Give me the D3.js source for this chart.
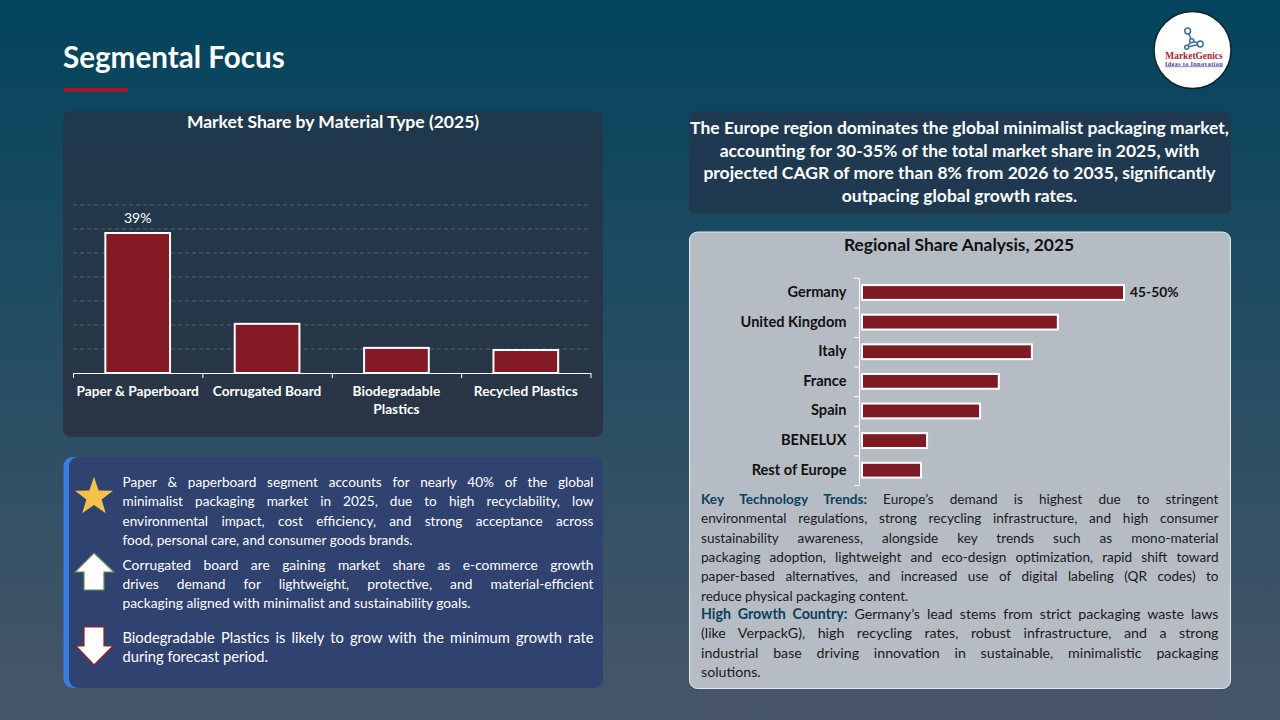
<!DOCTYPE html>
<html>
<head>
<meta charset="utf-8">
<script src="https://cdn.jsdelivr.net/npm/d3@7"></script>
<style>
  html, body { margin: 0; padding: 0; background: #03445d; }
  svg { display: block; }
  text { font-family: Lato, "Open Sans", sans-serif; }
</style>
</head>
<body>
<div id="chart_area"></div>
<script>
// Chart data.
var materialTypes = ["Paper & Paperboard", "Corrugated Board", "Biodegradable Plastics", "Recycled Plastics"];
var materialShares = [39, 13.7, 7, 6.4];
var materialLabels = ["39%", "", "", ""];
var materialMax = 46.8;
var materialGridSteps = 7;

var countries = ["Germany", "United Kingdom", "Italy", "France", "Spain", "BENELUX", "Rest of Europe"];
var countryShares = [47.5, 35.5, 30.8, 24.8, 21.4, 11.8, 10.7];
var countryLabels = ["45-50%", "", "", "", "", "", ""];

// Text blocks, one entry per line as in the slide.
var headlineLines = [
  "The Europe region dominates the global minimalist packaging market,",
  "accounting for 30-35% of the total market share in 2025, with",
  "projected CAGR of more than 8% from 2026 to 2035, significantly",
  "outpacing global growth rates."
];
var starLines = [
  "Paper & paperboard segment accounts for nearly 40% of the global",
  "minimalist packaging market in 2025, due to high recyclability, low",
  "environmental impact, cost efficiency, and strong acceptance across",
  "food, personal care, and consumer goods brands."
];
var upLines = [
  "Corrugated board are gaining market share as e-commerce growth",
  "drives demand for lightweight, protective, and material-efficient",
  "packaging aligned with minimalist and sustainability goals."
];
var downLines = [
  "Biodegradable Plastics is likely to grow with the minimum growth rate",
  "during forecast period."
];
var trendLines = [
  "Key Technology Trends: Europe\u2019s demand is highest due to stringent",
  "environmental regulations, strong recycling infrastructure, and high consumer",
  "sustainability awareness, alongside key trends such as mono-material",
  "packaging adoption, lightweight and eco-design optimization, rapid shift toward",
  "paper-based alternatives, and increased use of digital labeling (QR codes) to",
  "reduce physical packaging content."
];
var growthLines = [
  "High Growth Country: Germany\u2019s lead stems from strict packaging waste laws",
  "(like VerpackG), high recycling rates, robust infrastructure, and a strong",
  "industrial base driving innovation in sustainable, minimalistic packaging",
  "solutions."
];

var frame = d3.select("#chart_area").append("svg").attr("width", 1280).attr("height", 720);

// Background gradient.
var defs = frame.append("defs");
var bg = defs.append("linearGradient").attr("id", "bg").attr("x1", 0).attr("y1", 0).attr("x2", 0).attr("y2", 1);
bg.append("stop").attr("offset", "0%").attr("stop-color", "#03445d");
bg.append("stop").attr("offset", "100%").attr("stop-color", "#485668");
frame.append("rect").attr("width", 1280).attr("height", 720).attr("fill", "url(#bg)");

var panelFill = defs.append("linearGradient").attr("id", "panelFill").attr("x1", 0).attr("y1", 0).attr("x2", 0).attr("y2", 1);
panelFill.append("stop").attr("offset", "0%").attr("stop-color", "#1f384c");
panelFill.append("stop").attr("offset", "100%").attr("stop-color", "#2a3545");

// Write lines of text, stretching the word gaps so each line ends at x + width.
// boldWords colours and thickens the first n words of the first line.
function justified(parent, lines, x, y0, pitch, width, size, fill, boldWords, boldFill) {
  lines.forEach(function(line, i) {
    var t = parent.append("text").attr("x", x).attr("y", y0 + i * pitch)
      .attr("font-size", size).attr("fill", fill);
    var words = line.split(" ");
    if (i === 0 && boldWords) {
      t.append("tspan").attr("font-weight", 700).attr("fill", boldFill).text(words.slice(0, boldWords).join(" "));
      t.append("tspan").text(" " + words.slice(boldWords).join(" "));
    } else {
      t.text(line);
    }
    if (i < lines.length - 1) {
      var room = width - t.node().getComputedTextLength();
      t.style("word-spacing", (room / (words.length - 1)) + "px");
    }
  });
}

function centered(parent, lines, cx, y0, pitch, size, fill, weight) {
  lines.forEach(function(line, i) {
    parent.append("text").attr("x", cx).attr("y", y0 + i * pitch).attr("text-anchor", "middle")
      .attr("font-size", size).attr("font-weight", weight).attr("fill", fill).text(line);
  });
}

// Slide title.
frame.append("text").attr("x", 63).attr("y", 68).attr("font-size", 29.6).attr("font-weight", 700)
  .attr("fill", "#ffffff").text("Segmental Focus");
frame.append("rect").attr("x", 64).attr("y", 88).attr("width", 64).attr("height", 3.5).attr("fill", "#b80f1c");

// Logo.
var logo = frame.append("g");
logo.append("circle").attr("cx", 1192.5).attr("cy", 50).attr("r", 38.5)
  .attr("fill", "#ffffff").attr("stroke", "#12232f").attr("stroke-width", 1.5);
var logoNodes = [[1187.7, 31, 2.9], [1200.3, 44, 2.9], [1186.7, 47.3, 2], [1191.7, 40.7, 2]];
var net = logo.append("g").attr("stroke", "#3f6d96").attr("stroke-width", 1.5).attr("fill", "#ffffff");
[[0, 3], [1, 3], [2, 3], [1, 2]].forEach(function(e) {
  net.append("line").attr("x1", logoNodes[e[0]][0]).attr("y1", logoNodes[e[0]][1])
    .attr("x2", logoNodes[e[1]][0]).attr("y2", logoNodes[e[1]][1]);
});
logoNodes.forEach(function(n) {
  net.append("circle").attr("cx", n[0]).attr("cy", n[1]).attr("r", n[2]);
});
logo.append("text").attr("x", 1194).attr("y", 58.5).attr("text-anchor", "middle")
  .style("font-family", "'Liberation Serif', serif").attr("font-size", 9.4).attr("font-weight", 700)
  .attr("fill", "#a5243a").text("MarketGenics");
logo.append("text").attr("x", 1194).attr("y", 65.5).attr("text-anchor", "middle")
  .style("font-family", "'Liberation Serif', serif").style("letter-spacing", "0.35px")
  .attr("font-size", 6.2).attr("font-weight", 700)
  .attr("fill", "#4b3f8c").attr("text-decoration", "underline").text("Ideas to Innovation");

// Panels.
frame.append("rect").attr("x", 63).attr("y", 111).attr("width", 540).attr("height", 326).attr("rx", 8)
  .attr("fill", "url(#panelFill)");
frame.append("rect").attr("x", 689).attr("y", 111).attr("width", 542).attr("height", 103).attr("rx", 6)
  .attr("fill", "#1f3a50");
frame.append("rect").attr("x", 63.5).attr("y", 457).attr("width", 100).attr("height", 231).attr("rx", 9)
  .attr("fill", "#3a7ee2");
frame.append("rect").attr("x", 69).attr("y", 457).attr("width", 534).attr("height", 231).attr("rx", 9)
  .attr("fill", "#2f4270");
frame.append("rect").attr("x", 689.5).attr("y", 232).attr("width", 541).attr("height", 456.5).attr("rx", 8)
  .attr("fill", "#b6bcc4").attr("stroke", "#e6e9ec").attr("stroke-width", 1);

// Left chart.
var barLeft = 73, barRight = 590.5, barBase = 373, barTop = 205;
var x = d3.scaleBand().domain(materialTypes).range([barLeft, barRight]).paddingInner(0.5).paddingOuter(0.25);
var xEdges = d3.scaleLinear().domain([0, materialTypes.length]).range([barLeft, barRight]);
var y = d3.scaleLinear().domain([0, materialMax]).range([barBase, barTop]);

centered(frame, ["Market Share by Material Type (2025)"], 333, 128, 0, 17.5, "#ffffff", 700);

var gridValues = d3.range(1, materialGridSteps + 1).map(function(i) { return i * materialMax / materialGridSteps; });
frame.append("g").selectAll("line").data(gridValues).join("line")
  .attr("x1", barLeft).attr("x2", barRight).attr("y1", y).attr("y2", y)
  .attr("stroke", "#5d6b7b").attr("stroke-width", 0.8).attr("stroke-dasharray", "4 3");

frame.append("g").selectAll("rect").data(materialShares).join("rect")
  .attr("x", function(d, i) { return x(materialTypes[i]); })
  .attr("y", y)
  .attr("width", x.bandwidth())
  .attr("height", function(d) { return barBase - y(d); })
  .attr("fill", "#831a24").attr("stroke", "#ffffff").attr("stroke-width", 2);

frame.append("g").selectAll("text").data(materialShares).join("text")
  .attr("x", function(d, i) { return x(materialTypes[i]) + x.bandwidth() / 2; })
  .attr("y", function(d) { return y(d) - 10; })
  .attr("text-anchor", "middle").attr("font-size", 14).attr("fill", "#ffffff")
  .text(function(d, i) { return materialLabels[i]; });

var xAxis = d3.axisBottom(xEdges).tickValues(d3.range(0, materialTypes.length + 1)).tickSize(-5).tickSizeOuter(0).tickFormat("");
var xAxisG = frame.append("g").attr("transform", "translate(0," + barBase + ")").call(xAxis);
xAxisG.selectAll("line,path").attr("stroke", "#ffffff").attr("stroke-width", 1);
xAxisG.selectAll("line").attr("y2", 5);

materialTypes.forEach(function(name) {
  var cx = x(name) + x.bandwidth() / 2;
  var parts = name === "Biodegradable Plastics" ? ["Biodegradable", "Plastics"] : [name];
  centered(frame, parts, cx, 396, 18, 13.7, "#ffffff", 700);
});

// Bullet icons.
var iconLine = d3.line();
var starPoints = d3.range(10).map(function(i) {
  var r = i % 2 ? 8 : 20, a = i * Math.PI / 5;
  return [94 + r * Math.sin(a), 497 - r * Math.cos(a)];
});
frame.append("path").attr("d", iconLine(starPoints) + "Z").attr("fill", "#f4c24a");
var upArrow = [[94, 553], [114, 572], [104, 572], [104, 590], [84, 590], [84, 572], [75, 572]];
frame.append("path").attr("d", iconLine(upArrow) + "Z").attr("fill", "#ffffff").attr("stroke", "#5c8f5a").attr("stroke-width", 1.2);
var downArrow = [[84, 627], [104, 627], [104, 646], [113, 646], [94, 665], [76, 646], [84, 646]];
frame.append("path").attr("d", iconLine(downArrow) + "Z").attr("fill", "#ffffff").attr("stroke", "#9c1f2d").attr("stroke-width", 1.2);

// Bullet texts.
justified(frame, starLines, 122.5, 487, 19.4, 471, 13.6, "#ffffff");
justified(frame, upLines, 122.5, 570, 19.2, 471, 13.8, "#ffffff");
justified(frame, downLines, 122.5, 643, 19.2, 471, 14.7, "#ffffff");

// Headline.
centered(frame, headlineLines, 959.5, 134, 22.6, 17.5, "#ffffff", 700);

// Right chart.
var rowTop = 277.7, rowBottom = 485, axisX = 859, shareLeft = 862;
var rows = d3.scaleBand().domain(countries).range([rowTop, rowBottom]).paddingInner(0.5).paddingOuter(0.25);
var share = d3.scaleLinear().domain([0, 47.5]).range([shareLeft, 1124]);

centered(frame, ["Regional Share Analysis, 2025"], 959, 251, 0, 17.4, "#111111", 700);

frame.append("g").selectAll("rect").data(countryShares).join("rect")
  .attr("x", shareLeft)
  .attr("y", function(d, i) { return rows(countries[i]); })
  .attr("width", function(d) { return share(d) - shareLeft; })
  .attr("height", rows.bandwidth())
  .attr("fill", "#7d1a24").attr("stroke", "#ffffff").attr("stroke-width", 2);

var rowEdges = d3.scaleLinear().domain([0, countries.length]).range([rowTop, rowBottom]);
var yAxis = d3.axisLeft(rowEdges).tickValues(d3.range(0, countries.length + 1)).tickSize(5).tickSizeOuter(0).tickFormat("");
var yAxisG = frame.append("g").attr("transform", "translate(" + axisX + ",0)").call(yAxis);
yAxisG.selectAll("line,path").attr("stroke", "#ffffff").attr("stroke-width", 1);

frame.append("g").selectAll("text.country").data(countries).join("text")
  .attr("class", "country")
  .attr("x", 846.5)
  .attr("y", function(d) { return rows(d) + rows.bandwidth() / 2 + 4.5; })
  .attr("text-anchor", "end").attr("font-size", 14.6).attr("font-weight", 700).attr("fill", "#111111")
  .text(function(d) { return d; });

frame.append("g").selectAll("text.value").data(countryShares).join("text")
  .attr("class", "value")
  .attr("x", function(d) { return share(d) + 6; })
  .attr("y", function(d, i) { return rows(countries[i]) + rows.bandwidth() / 2 + 4.5; })
  .attr("font-size", 13.8).attr("font-weight", 700).attr("fill", "#111111")
  .text(function(d, i) { return countryLabels[i]; });

// Right panel texts.
justified(frame, trendLines, 701, 504, 19.3, 517.5, 13.6, "#1a1a1a", 3, "#0b3f5c");
justified(frame, growthLines, 701, 619, 19.3, 517.5, 14.2, "#1a1a1a", 3, "#0b3f5c");
</script>
</body>
</html>
